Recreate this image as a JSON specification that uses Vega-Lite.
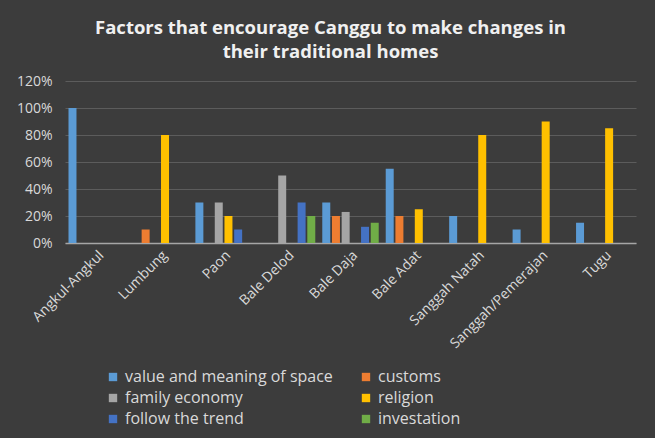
{
  "$schema": "https://vega.github.io/schema/vega-lite/v6.json",
  "width": 571,
  "height": 162,
  "autosize": {"type": "none"},
  "padding": {"left": 65, "top": 81, "right": 19, "bottom": 195},
  "background": "#3c3c3c",
  "title": {
    "text": ["Factors that encourage Canggu to make changes in", "their traditional homes"],
    "anchor": "middle",
    "frame": "group",
    "dx": -20,
    "offset": 13,
    "font": "Open Sans",
    "fontSize": 18.5,
    "fontWeight": "bold",
    "color": "#f0f0f0",
    "lineHeight": 24
  },
  "data": {
    "values": [
      {"category": "Angkul-Angkul", "factor": "value and meaning of space", "value": 1.0},
      {"category": "Lumbung", "factor": "customs", "value": 0.1},
      {"category": "Lumbung", "factor": "religion", "value": 0.8},
      {"category": "Paon", "factor": "value and meaning of space", "value": 0.3},
      {"category": "Paon", "factor": "family economy", "value": 0.3},
      {"category": "Paon", "factor": "religion", "value": 0.2},
      {"category": "Paon", "factor": "follow the trend", "value": 0.1},
      {"category": "Bale Delod", "factor": "family economy", "value": 0.5},
      {"category": "Bale Delod", "factor": "follow the trend", "value": 0.3},
      {"category": "Bale Delod", "factor": "investation", "value": 0.2},
      {"category": "Bale Daja", "factor": "value and meaning of space", "value": 0.3},
      {"category": "Bale Daja", "factor": "customs", "value": 0.2},
      {"category": "Bale Daja", "factor": "family economy", "value": 0.23},
      {"category": "Bale Daja", "factor": "follow the trend", "value": 0.12},
      {"category": "Bale Daja", "factor": "investation", "value": 0.15},
      {"category": "Bale Adat", "factor": "value and meaning of space", "value": 0.55},
      {"category": "Bale Adat", "factor": "customs", "value": 0.2},
      {"category": "Bale Adat", "factor": "religion", "value": 0.25},
      {"category": "Sanggah Natah", "factor": "value and meaning of space", "value": 0.2},
      {"category": "Sanggah Natah", "factor": "religion", "value": 0.8},
      {"category": "Sanggah/Pemerajan", "factor": "value and meaning of space", "value": 0.1},
      {"category": "Sanggah/Pemerajan", "factor": "religion", "value": 0.9},
      {"category": "Tugu", "factor": "value and meaning of space", "value": 0.15},
      {"category": "Tugu", "factor": "religion", "value": 0.85}
    ]
  },
  "mark": {"type": "bar"},
  "encoding": {
    "x": {
      "field": "category",
      "type": "nominal",
      "sort": ["Angkul-Angkul", "Lumbung", "Paon", "Bale Delod", "Bale Daja", "Bale Adat", "Sanggah Natah", "Sanggah/Pemerajan", "Tugu"],
      "scale": {"paddingInner": 0, "paddingOuter": 0},
      "axis": {
        "title": null,
        "labelAngle": -45,
        "labelFont": "Open Sans",
        "labelFontSize": 14,
        "labelColor": "#d9d9d9",
        "labelPadding": 5,
        "ticks": false,
        "domainColor": "#a6a6a6",
        "domainWidth": 1.5,
        "grid": false
      }
    },
    "xOffset": {
      "field": "factor",
      "type": "nominal",
      "scale": {
        "domain": ["value and meaning of space", "customs", "family economy", "religion", "follow the trend", "investation"],
        "paddingInner": 0.175,
        "paddingOuter": 0.36
      }
    },
    "y": {
      "field": "value",
      "type": "quantitative",
      "scale": {"domain": [0, 1.2]},
      "axis": {
        "title": null,
        "format": ".0%",
        "values": [0, 0.2, 0.4, 0.6, 0.8, 1.0, 1.2],
        "labelFont": "Open Sans",
        "labelFontSize": 14,
        "labelColor": "#d9d9d9",
        "labelPadding": 13,
        "ticks": false,
        "domain": false,
        "gridColor": "#5c5c5c",
        "gridWidth": 1
      }
    },
    "color": {
      "field": "factor",
      "type": "nominal",
      "scale": {
        "domain": ["value and meaning of space", "customs", "family economy", "religion", "follow the trend", "investation"],
        "range": ["#5B9BD5", "#ED7D31", "#A5A5A5", "#FFC000", "#4472C4", "#70AD47"]
      },
      "legend": {
        "title": null,
        "orient": "none",
        "direction": "horizontal",
        "legendX": 40,
        "legendY": 288,
        "columns": 2,
        "columnPadding": 25,
        "rowPadding": 5,
        "symbolType": "square",
        "symbolSize": 70,
        "symbolStrokeWidth": 0,
        "labelFont": "Open Sans",
        "labelFontSize": 16,
        "labelColor": "#d9d9d9",
        "labelLimit": 400
      }
    }
  },
  "config": {
    "view": {"stroke": null}
  }
}
